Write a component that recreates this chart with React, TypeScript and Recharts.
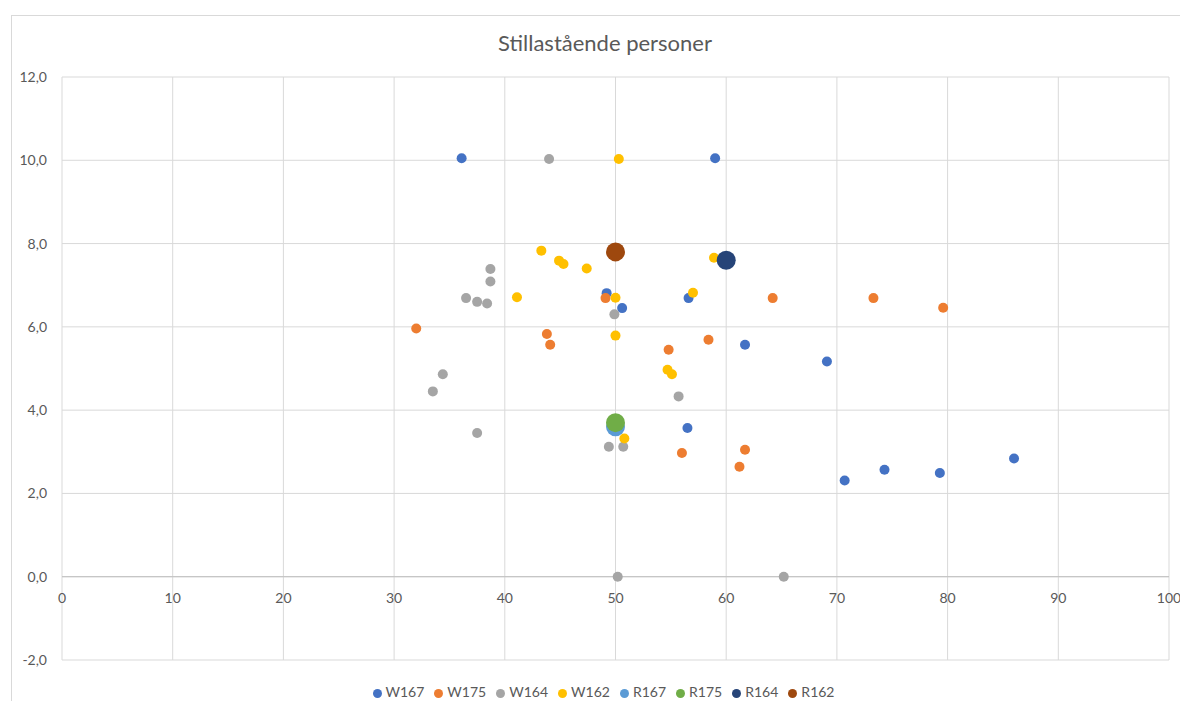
import React from "react";
import {
  ScatterChart,
  Scatter,
  XAxis,
  YAxis,
  CartesianGrid,
  ReferenceLine,
  Legend,
} from "recharts";

const w167 = [
  { x: 36.1, y: 10.05 }, { x: 59.0, y: 10.05 }, { x: 49.2, y: 6.81 },
  { x: 50.6, y: 6.45 }, { x: 56.6, y: 6.69 }, { x: 61.7, y: 5.57 },
  { x: 69.1, y: 5.17 }, { x: 56.5, y: 3.57 }, { x: 70.7, y: 2.31 },
  { x: 74.3, y: 2.57 }, { x: 79.3, y: 2.49 }, { x: 86.0, y: 2.84 },
];
const w175 = [
  { x: 32.0, y: 5.96 }, { x: 43.8, y: 5.83 }, { x: 44.1, y: 5.57 },
  { x: 49.1, y: 6.69 }, { x: 64.2, y: 6.69 }, { x: 73.3, y: 6.69 },
  { x: 79.6, y: 6.46 }, { x: 54.8, y: 5.45 }, { x: 58.4, y: 5.69 },
  { x: 56.0, y: 2.97 }, { x: 61.7, y: 3.05 }, { x: 61.2, y: 2.64 },
];
const w164 = [
  { x: 44.0, y: 10.03 }, { x: 38.7, y: 7.39 }, { x: 38.7, y: 7.09 },
  { x: 36.5, y: 6.69 }, { x: 37.5, y: 6.6 }, { x: 38.4, y: 6.56 },
  { x: 49.9, y: 6.3 }, { x: 34.4, y: 4.86 }, { x: 33.5, y: 4.45 },
  { x: 37.5, y: 3.45 }, { x: 55.7, y: 4.33 }, { x: 49.4, y: 3.12 },
  { x: 50.7, y: 3.12 }, { x: 50.2, y: 0 }, { x: 65.2, y: 0 },
];
const w162 = [
  { x: 50.3, y: 10.03 }, { x: 43.3, y: 7.83 }, { x: 44.9, y: 7.59 },
  { x: 45.3, y: 7.51 }, { x: 47.4, y: 7.4 }, { x: 41.1, y: 6.71 },
  { x: 58.9, y: 7.66 }, { x: 50.0, y: 6.7 }, { x: 57.0, y: 6.82 },
  { x: 50.0, y: 5.79 }, { x: 54.7, y: 4.97 }, { x: 55.1, y: 4.86 },
  { x: 50.8, y: 3.32 },
];
const r167 = [{ x: 50, y: 3.6 }];
const r175 = [{ x: 50, y: 3.7 }];
const r164 = [{ x: 60, y: 7.6 }];
const r162 = [{ x: 50, y: 7.8 }];

const xTicks = [0, 10, 20, 30, 40, 50, 60, 70, 80, 90, 100];
const yTicks = [-2, 0, 2, 4, 6, 8, 10, 12];

const series = [
  { name: "W167", data: w167, color: "#4472C4", r: 5 },
  { name: "W175", data: w175, color: "#ED7D31", r: 5 },
  { name: "W164", data: w164, color: "#A5A5A5", r: 5 },
  { name: "W162", data: w162, color: "#FFC000", r: 5 },
  { name: "R167", data: r167, color: "#5B9BD5", r: 9.5 },
  { name: "R175", data: r175, color: "#70AD47", r: 9.5 },
  { name: "R164", data: r164, color: "#264478", r: 9.5 },
  { name: "R162", data: r162, color: "#9E480E", r: 9.5 },
];
const seriesOrder = series.map((s) => s.name);

const FONT = "Lato, 'Open Sans', sans-serif";
const TEXT = "#595959";
// plot spans 77..660 px, zero line sits 2/14 of that above the bottom
const ZERO_SHIFT = (583 * 2) / 14;

const XTick = (props: any) => {
  const { x, y, payload } = props;
  return (
    <text x={x} y={y - ZERO_SHIFT + 18} textAnchor="middle" fill={TEXT} fontSize={14} fontFamily={FONT}>
      {payload.value}
    </text>
  );
};

const dot = (color: string, r: number) => (p: any) =>
  <circle cx={p.cx} cy={p.cy} r={r} fill={color} />;

export default function App() {
  return (
    <div style={{ position: "relative", width: 1188, height: 709, margin: -8, overflow: "hidden", background: "#fff" }}>
      <div
        style={{
          position: "absolute", left: 11, top: 15, width: 1200, height: 720,
          borderLeft: "1px solid #d9d9d9", borderTop: "1px solid #d9d9d9",
        }}
      />
      <div
        style={{
          position: "absolute", top: 29, left: 0, width: 1210, textAlign: "center",
          fontFamily: FONT, fontSize: 22, color: TEXT,
        }}
      >
        Stillastående personer
      </div>
      <div style={{ position: "absolute", left: 0, top: 0 }}>
        <ScatterChart width={1188} height={709} margin={{ top: 77, right: 19, left: 12, bottom: 0 }}>
          <CartesianGrid stroke="#d9d9d9" />
          <XAxis
            type="number"
            dataKey="x"
            domain={[0, 100]}
            ticks={xTicks}
            axisLine={false}
            tickLine={false}
            height={20}
            tick={<XTick />}
            interval={0}
          />
          <YAxis
            type="number"
            dataKey="y"
            domain={[-2, 12]}
            ticks={yTicks}
            axisLine={false}
            tickLine={false}
            width={50}
            interval={0}
            tickFormatter={(v: number) => v.toFixed(1).replace(".", ",")}
            tick={{ fill: TEXT, fontSize: 14, fontFamily: FONT, dx: -7 }}
          />
          <ReferenceLine y={0} stroke="#bfbfbf" strokeWidth={1} />
          <Legend
            verticalAlign="bottom"
            iconType="circle"
            iconSize={9}
            height={29}
            itemSorter={(item: any) => seriesOrder.indexOf(item.value)}
            formatter={(value: string) => <span style={{ color: TEXT }}>{value}</span>}
            wrapperStyle={{ fontFamily: FONT, fontSize: 14, bottom: -3, left: 30 }}
          />
          {series.map((s) => (
            <Scatter
              key={s.name}
              name={s.name}
              data={s.data}
              fill={s.color}
              legendType="circle"
              shape={dot(s.color, s.r)}
              isAnimationActive={false}
            />
          ))}
        </ScatterChart>
      </div>
    </div>
  );
}
